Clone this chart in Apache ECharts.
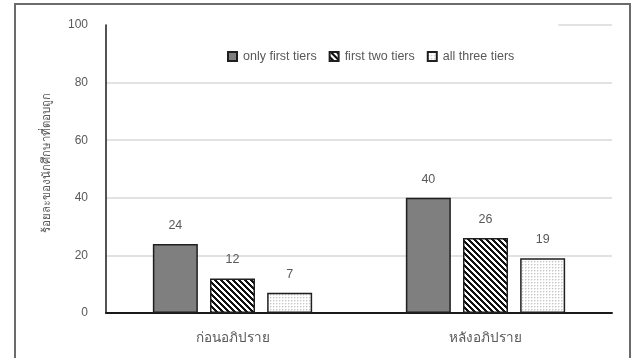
<!DOCTYPE html>
<html>
<head>
<meta charset="utf-8">
<script src="https://cdn.jsdelivr.net/npm/echarts@6/dist/echarts.min.js"></script>
<style>
  html, body { margin: 0; padding: 0; background: #fff; }
  #frame { position: absolute; left: 14px; top: 3px; width: 617px; height: 370px; border: 2px solid #6b6b6b; box-sizing: border-box; }
  #chart { position: absolute; left: 0; top: 0; width: 638px; height: 358px; }
</style>
</head>
<body>
<div id="frame"></div>
<div id="chart"></div>
<script>
// Data
const categories = ['ก่อนอภิปราย', 'หลังอภิปราย'];
const seriesNames = ['only first tiers', 'first two tiers', 'all three tiers'];
const onlyFirst = [24, 40];
const firstTwo = [12, 26];
const allThree = [7, 19];
const yTicks = [0, 20, 40, 60, 80, 100];
const yTitle = 'ร้อยละของนักศึกษาที่ตอบถูก';

// Fill patterns drawn on small canvases
function stripePattern() {
  const n = 6;
  const c = document.createElement('canvas');
  c.width = n; c.height = n;
  const g = c.getContext('2d');
  g.fillStyle = '#ffffff';
  g.fillRect(0, 0, n, n);
  g.fillStyle = '#111111';
  for (let y = 0; y < n; y++) {
    for (let x = 0; x < n; x++) {
      const d = ((x - y) % n + n) % n;
      if (d < 3) g.fillRect(x, y, 1, 1);
    }
  }
  return c;
}
function dotPattern() {
  const n = 3;
  const c = document.createElement('canvas');
  c.width = n; c.height = n;
  const g = c.getContext('2d');
  g.fillStyle = '#ffffff';
  g.fillRect(0, 0, n, n);
  g.fillStyle = '#c8c8c8';
  g.fillRect(0, 0, 1, 1);
  g.fillStyle = '#e6e6e6';
  g.fillRect(1, 0, 1, 1);
  g.fillRect(0, 1, 1, 1);
  return c;
}

const fills = [
  '#7f7f7f',
  { image: stripePattern(), repeat: 'repeat' },
  { image: dotPattern(), repeat: 'repeat' }
];
const values = [onlyFirst, firstTwo, allThree];

const textColor = '#595959';
const font = "'Liberation Sans', Arial, 'DejaVu Sans', sans-serif";

const chart = echarts.init(document.getElementById('chart'), null, { renderer: 'canvas' });

chart.setOption({
  animation: false,
  textStyle: { fontFamily: font },
  grid: { left: 106, right: 26, top: 25, bottom: 45, containLabel: false },
  legend: {
    data: seriesNames,
    left: 107,
    top: 21,
    padding: [29, 44, 6, 120],
    backgroundColor: '#ffffff',
    itemWidth: 9,
    itemHeight: 9,
    itemGap: 12,
    icon: 'rect',
    textStyle: { color: textColor, fontSize: 12.5, fontFamily: font, padding: [0, 0, 0, 1] },
    z: 5
  },
  xAxis: {
    type: 'category',
    data: categories,
    axisLine: { show: true, lineStyle: { color: '#1a1a1a', width: 2 } },
    axisTick: { show: false },
    axisLabel: { color: textColor, fontSize: 13.5, margin: 18, fontFamily: font }
  },
  yAxis: {
    type: 'value',
    min: yTicks[0],
    max: yTicks[yTicks.length - 1],
    interval: yTicks[1] - yTicks[0],
    name: yTitle,
    nameLocation: 'middle',
    nameGap: 53,
    nameRotate: 90,
    nameTextStyle: { color: textColor, fontSize: 11.5, fontFamily: font, padding: [0, 0, 0, 12] },
    axisLine: { show: true, lineStyle: { color: '#1a1a1a', width: 1.5 } },
    axisTick: { show: false },
    axisLabel: { color: textColor, fontSize: 12, margin: 18, fontFamily: font },
    splitLine: { show: true, lineStyle: { color: '#d9d9d9', width: 1.5 } }
  },
  series: seriesNames.map((name, i) => ({
    name: name,
    type: 'bar',
    data: values[i],
    barWidth: 45,
    barGap: '27%',
    itemStyle: { color: fills[i], borderColor: '#1f1f1f', borderWidth: 1.5 },
    label: {
      show: true,
      position: 'top',
      distance: 12,
      color: textColor,
      fontSize: 12.5,
      fontFamily: font
    }
  }))
});
</script>
</body>
</html>
